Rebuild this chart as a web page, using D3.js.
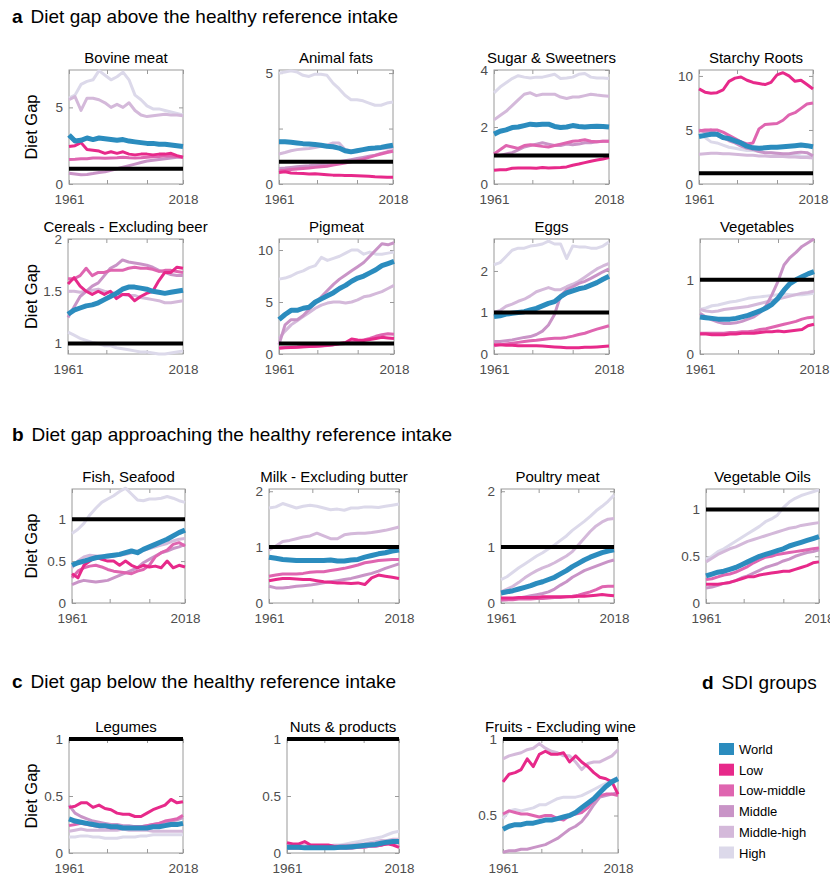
<!DOCTYPE html>
<html>
<head>
<meta charset="utf-8">
<script src="https://cdn.jsdelivr.net/npm/d3@7"></script>
<style>
  body { margin: 0; background: #fff; }
  text { font-family: "Liberation Sans", Arial, sans-serif; }
</style>
</head>
<body>
<svg width="830" height="878"></svg>
<script>
// DATA -------------------------------------------------------------
const years = [1961,1964,1967,1970,1973,1976,1979,1982,1985,1988,1991,1994,1997,2000,2003,2006,2009,2012,2015,2018];
const groups = ["World", "Low", "Low-middle", "Middle", "Middle-high", "High"];
const foods = ["Bovine meat", "Animal fats", "Sugar & Sweetners", "Starchy Roots",
  "Cereals - Excluding beer", "Pigmeat", "Eggs", "Vegetables",
  "Fish, Seafood", "Milk - Excluding butter", "Poultry meat", "Vegetable Oils",
  "Legumes", "Nuts & products", "Fruits - Excluding wine"];
const sections = [
  ["a", "Diet gap above the healthy reference intake"],
  ["b", "Diet gap approaching the healthy reference intake"],
  ["c", "Diet gap below the healthy reference intake"],
  ["d", "SDI groups"]
];
const referenceIntake = 1;

// each series in the order of `groups`
const bovineMeat = [
  [3.2,2.8,2.85,3.0,2.9,3.0,2.95,2.9,2.85,2.9,2.8,2.75,2.7,2.65,2.65,2.6,2.6,2.55,2.5,2.45],
  [2.45,2.5,2.7,2.25,2.2,2.15,2.0,2.1,2.0,2.1,1.95,1.9,1.95,1.95,1.9,1.95,1.95,2.0,1.85,1.75],
  [1.6,1.62,1.65,1.65,1.7,1.7,1.68,1.7,1.72,1.75,1.72,1.7,1.72,1.75,1.78,1.8,1.85,1.82,1.8,1.75],
  [0.7,0.65,0.6,0.62,0.68,0.75,0.8,0.9,1.0,1.1,1.2,1.3,1.4,1.5,1.55,1.6,1.65,1.7,1.75,1.75],
  [5.5,5.7,4.8,5.6,5.6,5.5,5.3,5.0,5.2,5.0,5.3,4.8,4.5,4.4,4.45,4.5,4.55,4.5,4.5,4.45],
  [5.6,5.8,6.5,6.7,6.8,7.4,7.1,6.8,7.0,7.3,6.8,5.8,5.5,5.1,4.9,4.9,4.8,4.7,4.6,4.5]
];
const animalFats = [
  [1.9,1.9,1.88,1.85,1.82,1.8,1.78,1.75,1.7,1.68,1.62,1.5,1.45,1.5,1.55,1.6,1.62,1.65,1.7,1.75],
  [0.52,0.55,0.5,0.48,0.47,0.45,0.46,0.44,0.42,0.4,0.4,0.38,0.38,0.37,0.36,0.35,0.33,0.32,0.3,0.3],
  [0.6,0.62,0.65,0.68,0.7,0.72,0.75,0.78,0.8,0.85,0.9,0.95,1.0,1.05,1.12,1.2,1.28,1.35,1.42,1.48],
  [0.7,0.72,0.75,0.78,0.8,0.82,0.85,0.88,0.92,0.95,1.0,1.05,1.1,1.15,1.2,1.25,1.3,1.38,1.45,1.5],
  [1.35,1.42,1.5,1.55,1.58,1.6,1.65,1.7,1.75,1.85,1.85,1.55,1.5,1.5,1.55,1.55,1.6,1.6,1.62,1.65],
  [5.0,5.05,5.1,5.05,4.9,4.85,4.95,4.95,4.9,4.55,4.3,4.0,3.8,3.8,3.75,3.65,3.55,3.55,3.65,3.7]
];
const sugarSweeteners = [
  [1.75,1.85,1.9,1.98,2.0,2.05,2.1,2.08,2.1,2.1,2.02,1.98,2.0,2.05,2.02,2.0,2.02,2.03,2.02,2.0],
  [0.48,0.5,0.5,0.55,0.56,0.56,0.56,0.55,0.58,0.56,0.57,0.58,0.6,0.66,0.7,0.75,0.8,0.84,0.88,0.93],
  [1.05,1.2,1.35,1.3,1.25,1.35,1.38,1.35,1.32,1.3,1.35,1.4,1.45,1.5,1.52,1.55,1.5,1.48,1.5,1.5],
  [1.0,1.0,1.05,1.1,1.2,1.3,1.35,1.4,1.45,1.4,1.35,1.35,1.4,1.38,1.4,1.45,1.45,1.48,1.5,1.5],
  [2.25,2.4,2.55,2.75,2.95,3.15,3.2,3.1,3.15,3.15,3.15,3.05,3.0,3.05,3.05,3.1,3.15,3.12,3.1,3.08],
  [3.2,3.4,3.55,3.7,3.8,3.75,3.72,3.75,3.75,3.8,3.85,3.7,3.72,3.75,3.85,3.88,3.75,3.72,3.72,3.7]
];
const starchyRoots = [
  [4.4,4.5,4.6,4.6,4.3,4.2,4.0,3.8,3.5,3.35,3.3,3.35,3.4,3.4,3.45,3.5,3.55,3.6,3.55,3.45],
  [8.8,8.5,8.4,8.45,8.7,9.5,9.8,9.9,9.6,9.4,9.3,9.2,9.4,10.1,10.3,10.0,9.5,9.6,9.2,8.8],
  [4.9,5.0,5.0,5.0,4.8,4.5,4.2,3.9,3.7,3.8,5.1,5.5,5.55,5.6,5.9,6.4,6.6,7.0,7.4,7.5],
  [5.0,4.8,5.0,4.6,4.3,4.0,3.8,3.5,3.3,3.2,3.0,2.9,2.9,2.85,2.8,2.8,2.9,2.95,2.9,2.6],
  [2.75,2.8,2.85,2.85,2.8,2.8,2.75,2.7,2.65,2.65,2.6,2.6,2.55,2.55,2.55,2.5,2.5,2.45,2.45,2.4],
  [4.6,4.3,3.9,3.8,3.6,3.4,3.3,3.2,3.1,3.1,3.0,2.9,2.9,2.8,2.7,2.7,2.7,2.6,2.55,2.5]
];
const cereals = [
  [1.28,1.32,1.34,1.36,1.37,1.39,1.42,1.45,1.48,1.52,1.54,1.54,1.53,1.52,1.5,1.49,1.48,1.49,1.5,1.51],
  [1.57,1.63,1.55,1.5,1.47,1.5,1.47,1.5,1.43,1.47,1.47,1.41,1.45,1.48,1.5,1.6,1.68,1.68,1.73,1.72],
  [1.62,1.62,1.65,1.72,1.65,1.68,1.68,1.7,1.7,1.7,1.72,1.73,1.72,1.72,1.71,1.69,1.7,1.7,1.69,1.68],
  [1.25,1.35,1.45,1.5,1.55,1.58,1.65,1.72,1.75,1.8,1.78,1.77,1.76,1.75,1.73,1.7,1.68,1.66,1.65,1.65],
  [1.5,1.5,1.49,1.5,1.51,1.52,1.5,1.49,1.48,1.47,1.46,1.46,1.44,1.43,1.42,1.41,1.39,1.39,1.4,1.41],
  [1.11,1.08,1.05,1.03,1.01,1.0,0.98,0.98,0.96,0.95,0.94,0.93,0.92,0.92,0.91,0.9,0.9,0.91,0.92,0.93]
];
const pigmeat = [
  [3.3,3.8,4.2,4.2,4.4,4.5,5.0,5.3,5.6,5.9,6.3,6.6,7.0,7.3,7.5,7.8,8.1,8.5,8.7,8.9],
  [0.55,0.6,0.62,0.65,0.7,0.72,0.75,0.8,0.85,0.9,1.0,1.1,1.45,1.35,1.3,1.4,1.5,1.6,1.55,1.5],
  [0.6,0.62,0.65,0.68,0.7,0.72,0.75,0.78,0.82,0.9,0.95,1.0,1.1,1.2,1.35,1.5,1.7,1.85,1.95,1.9],
  [0.9,2.8,3.3,3.3,3.7,4.3,4.9,5.5,6.1,6.7,7.2,7.6,8.0,8.4,8.8,9.4,10.0,10.6,10.5,10.7],
  [1.5,2.2,2.8,3.2,3.6,4.0,4.4,4.7,4.9,5.0,5.0,4.9,5.0,5.2,5.5,5.6,5.8,6.0,6.3,6.6],
  [7.2,7.3,7.5,7.8,8.0,8.3,8.5,9.3,9.0,9.2,9.4,9.7,10.0,10.0,9.6,9.8,9.6,9.6,9.7,9.8]
];
const eggs = [
  [0.9,0.92,0.96,0.98,1.0,1.02,1.06,1.1,1.16,1.22,1.26,1.38,1.47,1.52,1.57,1.6,1.66,1.72,1.8,1.87],
  [0.22,0.22,0.21,0.21,0.2,0.2,0.2,0.2,0.19,0.18,0.17,0.16,0.15,0.15,0.15,0.16,0.16,0.17,0.18,0.19],
  [0.2,0.22,0.24,0.26,0.28,0.3,0.32,0.33,0.35,0.37,0.38,0.38,0.4,0.43,0.47,0.5,0.55,0.6,0.64,0.68],
  [0.3,0.3,0.32,0.34,0.37,0.4,0.42,0.47,0.55,0.7,0.95,1.4,1.55,1.62,1.7,1.75,1.82,1.9,1.98,2.05],
  [1.0,1.05,1.15,1.2,1.27,1.32,1.4,1.5,1.55,1.6,1.55,1.55,1.62,1.68,1.75,1.85,1.95,2.05,2.12,2.18],
  [2.15,2.2,2.35,2.5,2.55,2.55,2.6,2.62,2.65,2.72,2.65,2.65,2.3,2.6,2.58,2.58,2.55,2.55,2.6,2.7]
];
const vegetables = [
  [0.5,0.49,0.48,0.47,0.47,0.47,0.48,0.5,0.52,0.55,0.58,0.62,0.67,0.75,0.86,0.95,1.0,1.04,1.08,1.11],
  [0.27,0.27,0.26,0.26,0.26,0.27,0.27,0.28,0.28,0.28,0.29,0.3,0.3,0.31,0.3,0.31,0.32,0.33,0.38,0.4],
  [0.28,0.28,0.28,0.28,0.28,0.29,0.29,0.3,0.3,0.31,0.33,0.34,0.36,0.38,0.4,0.42,0.44,0.47,0.49,0.5],
  [0.55,0.5,0.46,0.43,0.41,0.41,0.42,0.44,0.47,0.5,0.56,0.65,0.8,0.98,1.2,1.3,1.37,1.45,1.5,1.55],
  [0.6,0.58,0.57,0.58,0.6,0.61,0.62,0.63,0.64,0.66,0.68,0.7,0.72,0.74,0.76,0.78,0.8,0.82,0.83,0.85],
  [0.6,0.62,0.65,0.66,0.68,0.7,0.71,0.73,0.75,0.76,0.77,0.78,0.79,0.8,0.81,0.8,0.8,0.8,0.81,0.82]
];
const fishSeafood = [
  [0.45,0.48,0.5,0.52,0.54,0.55,0.56,0.57,0.58,0.6,0.62,0.6,0.64,0.67,0.7,0.73,0.76,0.8,0.84,0.87],
  [0.35,0.3,0.45,0.5,0.55,0.52,0.5,0.5,0.45,0.5,0.45,0.42,0.45,0.43,0.44,0.42,0.5,0.42,0.45,0.43],
  [0.3,0.38,0.42,0.44,0.45,0.43,0.4,0.38,0.37,0.36,0.35,0.38,0.4,0.45,0.55,0.6,0.63,0.7,0.72,0.68],
  [0.22,0.25,0.27,0.26,0.25,0.26,0.27,0.3,0.33,0.36,0.39,0.42,0.48,0.52,0.56,0.6,0.62,0.65,0.67,0.7],
  [0.42,0.5,0.55,0.57,0.56,0.56,0.55,0.56,0.57,0.58,0.6,0.62,0.63,0.65,0.67,0.69,0.71,0.74,0.76,0.77],
  [0.83,0.88,0.95,1.05,1.13,1.2,1.24,1.28,1.33,1.37,1.3,1.23,1.22,1.24,1.24,1.25,1.27,1.25,1.22,1.2]
];
const milk = [
  [0.82,0.8,0.78,0.77,0.76,0.76,0.76,0.76,0.76,0.77,0.75,0.75,0.77,0.78,0.82,0.85,0.88,0.9,0.93,0.95],
  [0.4,0.42,0.44,0.44,0.43,0.42,0.42,0.4,0.38,0.37,0.36,0.36,0.35,0.36,0.33,0.45,0.5,0.48,0.46,0.44],
  [0.48,0.5,0.52,0.52,0.52,0.53,0.55,0.56,0.56,0.58,0.6,0.62,0.65,0.68,0.72,0.74,0.76,0.77,0.78,0.78],
  [0.3,0.27,0.27,0.28,0.3,0.31,0.32,0.34,0.36,0.38,0.4,0.42,0.44,0.47,0.5,0.53,0.57,0.62,0.66,0.7],
  [0.95,1.02,1.1,1.12,1.15,1.18,1.2,1.25,1.2,1.15,1.15,1.22,1.24,1.25,1.25,1.26,1.28,1.3,1.33,1.36],
  [1.7,1.72,1.78,1.74,1.7,1.73,1.75,1.73,1.7,1.67,1.68,1.66,1.7,1.7,1.72,1.72,1.71,1.73,1.75,1.77]
];
const poultryMeat = [
  [0.18,0.2,0.22,0.25,0.28,0.31,0.35,0.38,0.42,0.46,0.52,0.58,0.65,0.71,0.77,0.82,0.86,0.9,0.93,0.95],
  [0.09,0.09,0.09,0.1,0.1,0.1,0.1,0.11,0.11,0.11,0.11,0.11,0.11,0.12,0.12,0.13,0.14,0.15,0.14,0.13],
  [0.06,0.06,0.06,0.07,0.07,0.07,0.08,0.08,0.09,0.1,0.1,0.11,0.12,0.14,0.17,0.2,0.24,0.29,0.3,0.3],
  [0.05,0.06,0.07,0.09,0.11,0.13,0.15,0.17,0.2,0.25,0.32,0.38,0.46,0.52,0.58,0.62,0.66,0.7,0.74,0.77],
  [0.2,0.25,0.3,0.37,0.45,0.52,0.58,0.63,0.67,0.72,0.78,0.84,0.92,1.04,1.16,1.28,1.38,1.45,1.5,1.51],
  [0.42,0.47,0.55,0.63,0.7,0.77,0.84,0.9,0.97,1.04,1.12,1.2,1.3,1.38,1.46,1.55,1.65,1.73,1.82,1.93]
];
const vegetableOils = [
  [0.29,0.31,0.33,0.34,0.36,0.38,0.41,0.44,0.47,0.5,0.52,0.54,0.56,0.58,0.61,0.63,0.65,0.67,0.69,0.71],
  [0.2,0.2,0.2,0.21,0.22,0.24,0.26,0.28,0.28,0.3,0.31,0.32,0.33,0.34,0.34,0.36,0.38,0.4,0.43,0.44],
  [0.25,0.26,0.28,0.3,0.31,0.33,0.36,0.39,0.43,0.46,0.49,0.5,0.52,0.53,0.54,0.55,0.56,0.57,0.58,0.59],
  [0.16,0.17,0.19,0.21,0.22,0.24,0.27,0.29,0.32,0.35,0.38,0.4,0.42,0.45,0.47,0.5,0.52,0.54,0.55,0.57],
  [0.44,0.48,0.52,0.55,0.58,0.6,0.63,0.66,0.68,0.7,0.72,0.74,0.76,0.78,0.8,0.81,0.83,0.84,0.85,0.86],
  [0.47,0.5,0.55,0.58,0.62,0.66,0.7,0.74,0.78,0.82,0.87,0.9,0.94,1.02,1.08,1.12,1.15,1.17,1.19,1.21]
];
const legumes = [
  [0.3,0.28,0.27,0.26,0.25,0.24,0.24,0.23,0.23,0.22,0.22,0.22,0.22,0.22,0.23,0.23,0.24,0.25,0.25,0.26],
  [0.4,0.41,0.44,0.44,0.4,0.42,0.39,0.38,0.35,0.34,0.34,0.32,0.32,0.35,0.38,0.4,0.42,0.47,0.44,0.45],
  [0.24,0.25,0.26,0.25,0.24,0.23,0.23,0.22,0.22,0.22,0.22,0.23,0.23,0.24,0.25,0.26,0.28,0.29,0.3,0.33],
  [0.42,0.35,0.32,0.3,0.28,0.27,0.26,0.25,0.25,0.24,0.24,0.23,0.23,0.24,0.25,0.26,0.27,0.28,0.29,0.31],
  [0.19,0.2,0.21,0.2,0.2,0.2,0.2,0.2,0.2,0.21,0.2,0.2,0.2,0.2,0.19,0.19,0.19,0.19,0.19,0.19],
  [0.14,0.14,0.15,0.15,0.14,0.14,0.13,0.13,0.13,0.14,0.14,0.14,0.15,0.15,0.16,0.16,0.16,0.16,0.16,0.16]
];
const nuts = [
  [0.05,0.05,0.05,0.045,0.045,0.045,0.045,0.045,0.045,0.05,0.05,0.055,0.06,0.065,0.07,0.075,0.085,0.095,0.1,0.1],
  [0.09,0.08,0.08,0.1,0.07,0.07,0.07,0.07,0.06,0.06,0.06,0.06,0.06,0.07,0.07,0.07,0.07,0.08,0.07,0.05],
  [0.05,0.05,0.05,0.05,0.05,0.05,0.05,0.05,0.05,0.05,0.05,0.05,0.05,0.05,0.06,0.06,0.07,0.08,0.09,0.09],
  [0.04,0.04,0.04,0.04,0.04,0.04,0.04,0.04,0.04,0.04,0.04,0.04,0.05,0.05,0.06,0.06,0.07,0.08,0.09,0.09],
  [0.07,0.07,0.07,0.06,0.06,0.06,0.06,0.06,0.06,0.06,0.07,0.07,0.08,0.08,0.09,0.1,0.11,0.11,0.12,0.12],
  [0.05,0.06,0.07,0.07,0.06,0.06,0.06,0.06,0.07,0.07,0.08,0.09,0.1,0.11,0.12,0.13,0.14,0.16,0.18,0.19]
];
const fruits = [
  [0.41,0.43,0.44,0.44,0.45,0.45,0.46,0.47,0.47,0.48,0.49,0.5,0.52,0.55,0.58,0.61,0.65,0.69,0.72,0.74],
  [0.72,0.77,0.78,0.8,0.87,0.82,0.9,0.92,0.9,0.9,0.91,0.85,0.89,0.85,0.82,0.78,0.75,0.74,0.72,0.64],
  [0.51,0.53,0.52,0.51,0.51,0.5,0.49,0.5,0.5,0.48,0.47,0.5,0.51,0.52,0.55,0.6,0.63,0.64,0.64,0.63],
  [0.26,0.27,0.27,0.28,0.28,0.29,0.3,0.31,0.33,0.35,0.38,0.41,0.43,0.46,0.51,0.57,0.62,0.63,0.64,0.65],
  [0.87,0.89,0.9,0.91,0.93,0.94,0.97,0.94,0.92,0.91,0.89,0.89,0.85,0.8,0.84,0.85,0.85,0.87,0.89,0.93],
  [0.48,0.53,0.54,0.53,0.54,0.55,0.57,0.57,0.59,0.61,0.62,0.62,0.62,0.63,0.65,0.67,0.69,0.71,0.73,0.75]
];
const panelData = [bovineMeat, animalFats, sugarSweeteners, starchyRoots,
  cereals, pigmeat, eggs, vegetables,
  fishSeafood, milk, poultryMeat, vegetableOils,
  legumes, nuts, fruits];

// y axis limits and ticks per panel (tick labels shown where listed)
const yDomains = [[0,7.44],[0,5.14],[0,4],[0,10.55],[0.9,2],[0,11.06],[0,2.77],[0,1.55],
  [0,1.36],[0,2.04],[0,2.04],[0,1.22],[0,1],[0,1],[0.255,1]];
const yTicks = [[0,2.5,5],[0,2.5,5],[0,2,4],[0,5,10],[1,1.5,2],[0,5,10],[0,1,2],[0,0.5,1],
  [0,0.5,1],[0,1,2],[0,1,2],[0,0.5,1],[0,0.5,1],[0,0.5,1],[0.5,1]];
const yTickLabels = [[0,5],[0,5],[0,2,4],[0,5,10],[1,1.5,2],[0,5,10],[0,1,2],[0,1],
  [0,0.5,1],[0,1,2],[0,1,2],[0,0.5,1],[0,0.5,1],[0,0.5,1],[0.5,1]];
const xTicks = [1961, 1980, 2000, 2018];
const xTickLabels = [1961, 2018];

// LAYOUT / STYLE ---------------------------------------------------
const svg = d3.select("svg");
const FONT = "'Liberation Sans', Arial, sans-serif";
const colors = ["#2b8cbe", "#e7298a", "#df65b0", "#c994c7", "#d4b9da", "#dcd9ea"];
const widths = [5, 3, 3, 3, 3, 3];

// [left, right, top, bottom]
const boxes = [
  [69,183,70,184],[279,393,70,184],[494,609,70,184],[699,813,70,184],
  [68,183,239,354],[279,394,239,354],[494,609,239,354],[700,814,239,354],
  [72,185,489,603],[269,399,489,603],[501,614,489,603],[706,819,489,603],
  [69,183,739,853],[287,399,739,853],[503,618,739,853]
];
const sectionPos = [[12, 23], [12, 441], [12, 688], [702, 689]];

// section headings
sections.forEach((s, i) => {
  const t = svg.append("text")
    .attr("x", sectionPos[i][0])
    .attr("y", sectionPos[i][1])
    .attr("font-size", 19)
    .attr("fill", "#000");
  t.append("tspan").attr("font-weight", "bold").text(s[0]);
  t.append("tspan").attr("dx", 8).text(s[1]);
});

const fmt = v => String(v);

panelData.forEach((series, p) => {
  const [x0, x1, y0, y1] = boxes[p];
  const x = d3.scaleLinear().domain([years[0], years[years.length - 1]]).range([x0, x1]);
  const y = d3.scaleLinear().domain(yDomains[p]).range([y1, y0]);
  const g = svg.append("g");

  // axes: ticks pointing inward, labels only at chosen values
  const xl = xTickLabels, yl = yTickLabels[p];
  g.append("g").attr("transform", `translate(0,${y1})`)
    .call(d3.axisBottom(x).tickValues(xTicks).tickSize(-4).tickPadding(10)
      .tickFormat(d => xl.includes(d) ? fmt(d) : ""));
  g.append("g").attr("transform", `translate(0,${y0})`)
    .call(d3.axisTop(x).tickValues(xTicks).tickSize(-4).tickFormat(""));
  g.append("g").attr("transform", `translate(${x0},0)`)
    .call(d3.axisLeft(y).tickValues(yTicks[p]).tickSize(-4).tickPadding(6)
      .tickFormat(d => yl.includes(d) ? fmt(d) : ""));
  g.append("g").attr("transform", `translate(${x1},0)`)
    .call(d3.axisRight(y).tickValues(yTicks[p]).tickSize(-4).tickFormat(""));
  g.selectAll(".domain").remove();
  g.selectAll(".tick line").attr("stroke", "#9a9a9a");
  g.selectAll(".tick text").attr("font-size", 13.5).attr("font-family", FONT).attr("fill", "#4d4d4d");

  g.append("rect")
    .attr("x", x0).attr("y", y0)
    .attr("width", x1 - x0).attr("height", y1 - y0)
    .attr("fill", "none").attr("stroke", "#9a9a9a").attr("stroke-width", 1);

  // series lines, World drawn last among groups
  const line = d3.line().x((d, i) => x(years[i])).y(d => y(d));
  d3.range(groups.length).reverse().forEach(k => {
    g.append("path")
      .datum(series[k])
      .attr("d", line)
      .attr("fill", "none")
      .attr("stroke", colors[k])
      .attr("stroke-width", widths[k])
      .attr("stroke-linejoin", "round");
  });

  // healthy reference intake
  g.append("line")
    .attr("x1", x0).attr("x2", x1)
    .attr("y1", y(referenceIntake)).attr("y2", y(referenceIntake))
    .attr("stroke", "#000").attr("stroke-width", 4);

  // title
  g.append("text")
    .attr("x", (x0 + x1) / 2).attr("y", y0 - 7)
    .attr("text-anchor", "middle")
    .attr("font-size", 15)
    .text(foods[p]);

  if (p % 4 === 0) {
    g.append("text")
      .attr("transform", `translate(37,${(y0 + y1) / 2}) rotate(-90)`)
      .attr("text-anchor", "middle")
      .attr("font-size", 16.5)
      .text("Diet Gap");
  }
});

// legend
const legend = svg.append("g");
groups.forEach((name, i) => {
  const cy = 749 + i * 20.7;
  legend.append("rect")
    .attr("x", 719).attr("y", cy - 6)
    .attr("width", 15).attr("height", 12)
    .attr("fill", colors[i]);
  legend.append("text")
    .attr("x", 739).attr("y", cy + 5)
    .attr("font-size", 13)
    .text(name);
});
</script>
</body>
</html>
